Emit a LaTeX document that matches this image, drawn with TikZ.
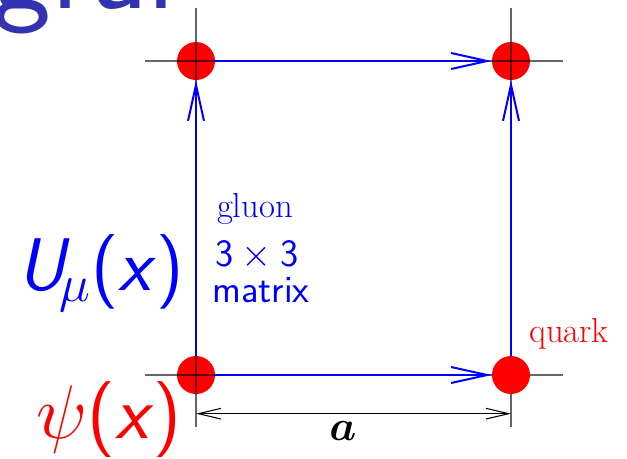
\documentclass[tikz,border=0pt]{standalone}
\usepackage{fix-cm}
\usepackage{bm}
\usepackage{xcolor}
\usepackage{tikz}
\usetikzlibrary{arrows.meta, positioning}
\definecolor{titleblue}{RGB}{51, 51, 178}
\definecolor{linkblue}{RGB}{0, 0, 255}
\definecolor{quarkred}{RGB}{255, 0, 0}

\begin{document}
\begin{tikzpicture}[x=0.75pt, y=-0.75pt,
    quark/.style={circle, fill=quarkred, minimum size=28.5pt, inner sep=0pt},
    crossline/.style={draw=black, draw opacity=0.6, line width=1.2pt},
    link/.style={-{Straight Barb[length=27pt, width=12pt]}, draw=linkblue,
                 line width=1.5pt},
    dimline/.style={{Straight Barb[length=17pt, width=8pt]}-{Straight Barb[length=17pt, width=8pt]},
                    draw=black, line width=0.8pt},
    lbl/.style={inner sep=0pt, anchor=base},
]
\useasboundingbox (0,0) rectangle (627,458);

%% ── title (cut off) ─────────────────────────────────────────────────────────
\node[lbl, anchor=base west, text=titleblue,
      font=\sffamily\fontsize{94}{100}\selectfont] (title) at (-8, 8) {gral};

%% ── lattice sites ───────────────────────────────────────────────────────────
\node[quark] (ul) at (196, 61)  {};
\node[quark] (ur) at (511, 61)  {};
\node[quark] (ll) at (196,375)  {};
\coordinate  (lrc) at (ur |- ll);

% grid lines
\draw[crossline] ([xshift=-38pt]ul.center) -- ([xshift=39pt]ur.center);
\draw[crossline] ([xshift=-38pt]ll.center) -- ([xshift=39pt]lrc);
\draw[crossline] ([yshift=40pt]ul.center)  -- ([yshift=-39pt]ll.center);
\draw[crossline] ([yshift=40pt]ur.center)  -- ([yshift=-39pt]lrc);

\node[quark] (lr) at (lrc) {};

%% ── links ───────────────────────────────────────────────────────────────────
\draw[link] (ll) -- (lr);
\draw[link] (ul) -- (ur);
\draw[link] (ll) -- (ul);
\draw[link] (lr) -- (ur);

% lattice spacing
\draw[dimline] ([yshift=-29pt]ll.center) --
      node[lbl, xshift=-8pt, yshift=-20pt, font=\fontsize{32}{34}\selectfont]{$\bm{a}$}
      ([yshift=-29pt]lr.center);

%% ── labels ──────────────────────────────────────────────────────────────────
\node[lbl, text=linkblue, font=\fontsize{26}{28}\selectfont] (gluon) at (255,217) {gluon};
\node[lbl, text=linkblue, font=\sffamily\fontsize{29}{31}\selectfont] (size) at (257,266) {3${}\times{}$3};
\node[lbl, text=linkblue, font=\sffamily\fontsize{29}{31}\selectfont] (matrix) at (261,302) {matrix};
\node[lbl, text=quarkred, font=\fontsize{26}{28}\selectfont] (qlabel) at (569,342) {quark};

\node[lbl, anchor=base east, text=linkblue, font=\fontsize{56}{60}\selectfont]
     (ulabel) at (184,290) {\textsf{\textsl{U}}\kern-0.14em$_{\mu}$\textsf{(\textsl{x})}};
\node[lbl, anchor=base east, text=quarkred, font=\fontsize{57}{60}\selectfont]
     (psilabel) at (182,438) {$\psi$\textsf{(\textsl{x})}};

\end{tikzpicture}
\end{document}
